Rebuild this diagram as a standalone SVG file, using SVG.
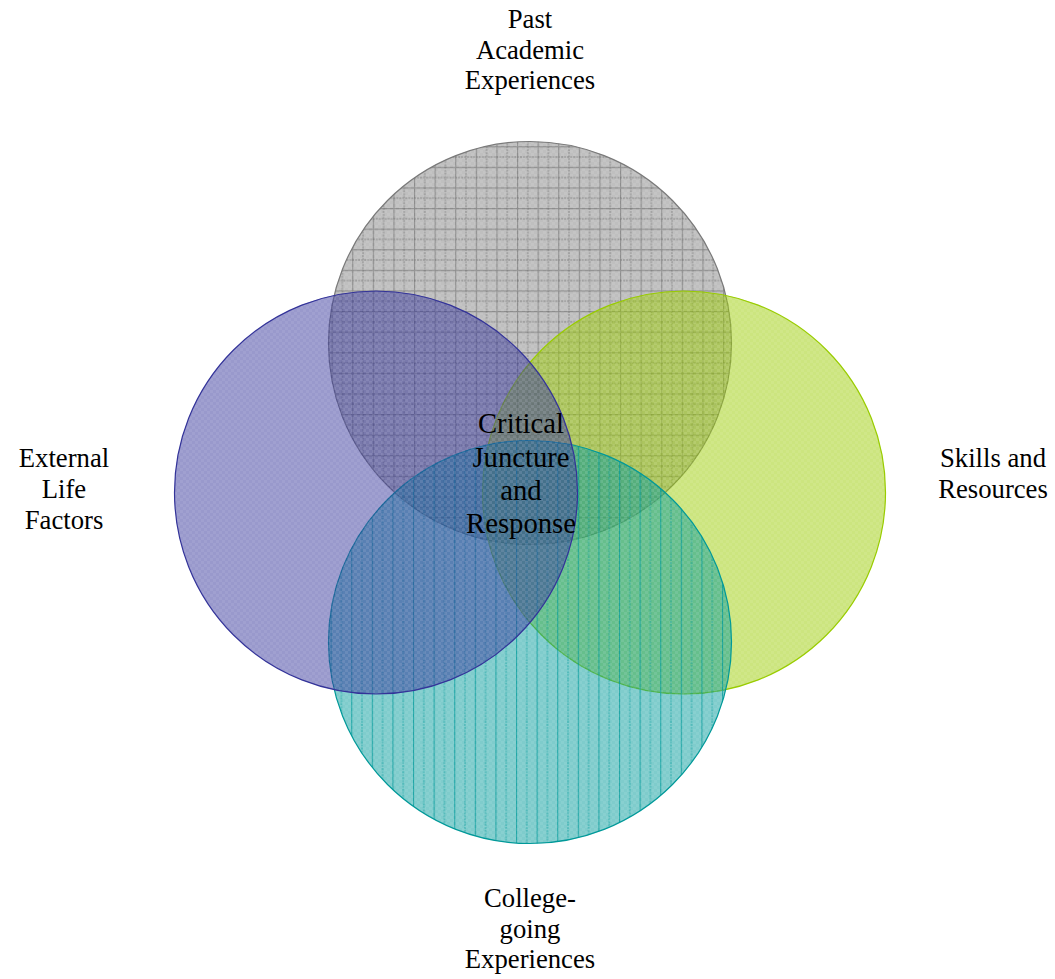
<svg xmlns="http://www.w3.org/2000/svg" width="1055" height="979" viewBox="0 0 1055 979">
<defs>
<pattern id="dither" width="6" height="6" patternUnits="userSpaceOnUse">
<rect x="0" y="0" width="3" height="3" fill="#ffffff" fill-opacity="0.07"/>
<rect x="3" y="3" width="3" height="3" fill="#ffffff" fill-opacity="0.07"/>
</pattern>
<pattern id="grid" width="20.6" height="20.6" patternUnits="userSpaceOnUse" x="2" y="2">
<path d="M0.5 0V20.6M0 0.5H20.6" stroke="#6a6a6a" stroke-opacity="0.6" stroke-width="1.3" fill="none"/>
<path d="M10.8 0V20.6M0 10.8H20.6" stroke="#6a6a6a" stroke-opacity="0.5" stroke-width="1.3" stroke-dasharray="2 1" fill="none"/>
</pattern>
<pattern id="vlines" width="20.6" height="20.6" patternUnits="userSpaceOnUse" x="1">
<path d="M0.5 0V20.6" stroke="#009999" stroke-opacity="0.75" stroke-width="1.2" fill="none"/>
<path d="M10.8 0V20.6" stroke="#009999" stroke-opacity="0.55" stroke-width="1.2" stroke-dasharray="2 1" fill="none"/>
</pattern>
</defs>
<style>
.lbl{font-family:"Liberation Serif","Times New Roman",serif;font-size:26.7px;fill:#000;text-anchor:middle}
.ctr{font-family:"Liberation Serif","Times New Roman",serif;font-size:28.7px;fill:#000;text-anchor:middle}
.dith{fill:url(#dither);stroke:none}
</style>
<g id="past">
<circle cx="530" cy="343" r="201.5" fill="#808080" fill-opacity="0.5"/>
<circle cx="530" cy="343" r="201.5" fill="url(#grid)"/>
<circle cx="530" cy="343" r="201.5" class="dith"/>
<circle cx="530" cy="343" r="201.5" fill="none" stroke="#7a7a7a" stroke-width="1.2"/>
</g>
<g id="skills">
<circle cx="684" cy="492.5" r="201.5" fill="#99cc00" fill-opacity="0.5"/>
<circle cx="684" cy="492.5" r="201.5" class="dith"/>
<circle cx="684" cy="492.5" r="201.5" fill="none" stroke="#99cc00" stroke-width="1.2"/>
</g>
<g id="college">
<circle cx="530" cy="642" r="201.5" fill="#009999" fill-opacity="0.5"/>
<circle cx="530" cy="642" r="201.5" fill="url(#vlines)"/>
<circle cx="530" cy="642" r="201.5" class="dith"/>
<circle cx="530" cy="642" r="201.5" fill="none" stroke="#009999" stroke-width="1.2"/>
</g>
<g id="external">
<circle cx="376" cy="492.5" r="201.5" fill="#333399" fill-opacity="0.5"/>
<circle cx="376" cy="492.5" r="201.5" class="dith"/>
<circle cx="376" cy="492.5" r="201.5" fill="none" stroke="#333399" stroke-width="1.2"/>
</g>
<g id="labels" font-family="'Liberation Serif', 'Times New Roman', serif">
<text class="lbl" x="530" y="28">Past</text>
<text class="lbl" x="530" y="58.5">Academic</text>
<text class="lbl" x="530" y="89">Experiences</text>
<text class="lbl" x="64" y="467">External</text>
<text class="lbl" x="64" y="498">Life</text>
<text class="lbl" x="64" y="529">Factors</text>
<text class="lbl" x="993" y="467">Skills and</text>
<text class="lbl" x="993" y="498">Resources</text>
<text class="lbl" x="530" y="907">College-</text>
<text class="lbl" x="530" y="938">going</text>
<text class="lbl" x="530" y="968">Experiences</text>
</g>
<g id="center" font-family="'Liberation Serif', 'Times New Roman', serif">
<text class="ctr" x="521" y="433">Critical</text>
<text class="ctr" x="521" y="466.5">Juncture</text>
<text class="ctr" x="521" y="500">and</text>
<text class="ctr" x="521" y="533">Response</text>
</g>
</svg>
